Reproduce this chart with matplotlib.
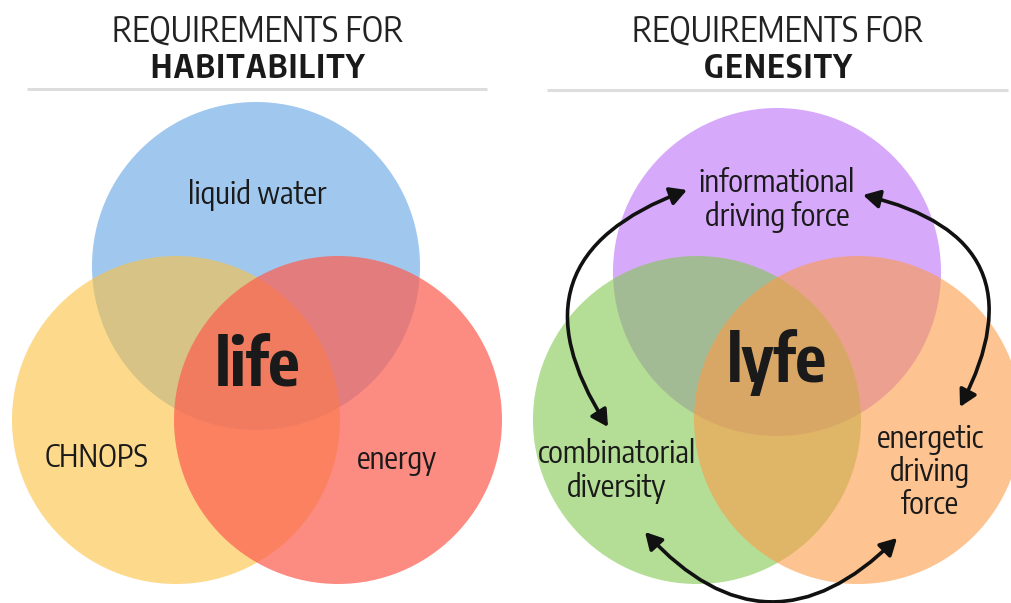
import matplotlib
matplotlib.use("Agg")
import matplotlib.pyplot as plt
from matplotlib import font_manager as fm
from matplotlib.patches import Circle, FancyArrowPatch

# look for a condensed sans face, the reference uses a narrow font
cond_family, cond_stretch = 'DejaVu Sans', 'normal'
names = sorted(set(f.name for f in fm.fontManager.ttflist))
for n in names:
    if ('Condensed' in n or 'Narrow' in n) and 'Sans' in n or n.startswith('Roboto Condensed'):
        cond_family = n
        break
else:
    for f in fm.fontManager.ttflist:
        st = f.stretch
        if st in ('condensed', 'semi-condensed', 'extra-condensed') or (isinstance(st, int) and st < 500):
            cond_family, cond_stretch = f.name, 'condensed'
            break

plt.rcParams['font.family'] = [cond_family, 'DejaVu Sans']
plt.rcParams['font.stretch'] = cond_stretch

# left diagram: habitability
hab_sets = ['liquid water', 'CHNOPS', 'energy']
hab_colors = ['#61a3e3', '#fcc13f', '#fc5f51']
hab_alpha = [0.6, 0.6, 0.72]
hab_centers = [(256, 266), (176, 420), (338, 420)]
hab_label_pos = [(257, 195), (96, 458), (397, 460)]
hab_core = 'life'

# right diagram: genesity
gen_sets = ['informational\ndriving force', 'combinatorial\ndiversity', 'energetic\ndriving\nforce']
gen_colors = ['#bc71f7', '#82c850', '#fc9b48']
gen_alpha = [0.6, 0.6, 0.6]
gen_centers = [(777, 272), (697, 420), (858, 420)]
gen_label_pos = [(777, 200), (617, 471), (930, 472)]
gen_core = 'lyfe'

radius = 164
W, H = 1011, 603

fig = plt.figure(figsize=(W / 100, H / 100), dpi=100)
ax = fig.add_axes([0, 0, 1, 1])
ax.set_xlim(0, W)
ax.set_ylim(H, 0)
ax.set_aspect('equal')
ax.axis('off')

for centers, colors, alphas in [(hab_centers, hab_colors, hab_alpha),
                                (gen_centers, gen_colors, gen_alpha)]:
    for c, col, a in zip(centers, colors, alphas):
        ax.add_patch(Circle(c, radius, facecolor=col, edgecolor='none', alpha=a))

# titles
for cx, word in [(258, 'HABITABILITY'), (778, 'GENESITY')]:
    ax.text(cx, 31, 'REQUIREMENTS FOR', ha='center', va='center',
            fontsize=25, color='#222222')
    ax.text(cx, 69, '\u200a'.join(word), ha='center', va='center',
            fontsize=23, fontweight='bold', color='#1a1a1a')

ax.plot([27, 487], [89, 89], color='#dddddd', lw=2.2, solid_capstyle='butt')
ax.plot([547, 1008], [90, 90], color='#dddddd', lw=2.2, solid_capstyle='butt')

for labels, pos in [(hab_sets, hab_label_pos), (gen_sets, gen_label_pos)]:
    for lab, (x, y) in zip(labels, pos):
        ax.text(x, y, lab, ha='center', va='center', fontsize=22,
                color='#1a1a1a', linespacing=1.05)

ax.text(257, 367, hab_core, ha='center', va='center', fontsize=47,
        fontweight='bold', color='#1a1a1a')
ax.text(777, 362, gen_core, ha='center', va='center', fontsize=46,
        fontweight='bold', color='#1a1a1a')

# curved double arrows
arrows = [((687, 190), (608, 427), 0.62),
          ((863, 195), (960, 407), -0.64),
          ((645, 532), (897, 538), 0.52)]
for p0, p1, rad in arrows:
    ax.add_patch(FancyArrowPatch(p0, p1, connectionstyle='arc3,rad=%s' % rad,
                                 arrowstyle='<|-|>,head_length=10,head_width=5.5',
                                 color='#111111', lw=2.6, mutation_scale=1,
                                 shrinkA=0, shrinkB=0))

fig.savefig('out.png', dpi=100, facecolor='white')
